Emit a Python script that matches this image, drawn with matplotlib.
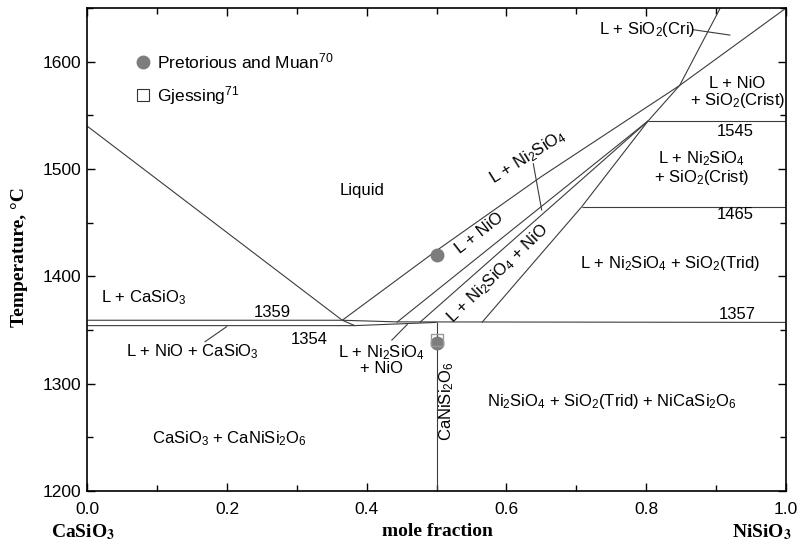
import matplotlib
matplotlib.use("Agg")
import matplotlib.pyplot as plt
from matplotlib.ticker import MultipleLocator

plt.rcParams["font.family"] = ["Liberation Sans", "DejaVu Sans"]
plt.rcParams["mathtext.fontset"] = "custom"
plt.rcParams["mathtext.rm"] = "Liberation Sans"
plt.rcParams["mathtext.it"] = "Liberation Sans:italic"
plt.rcParams["mathtext.bf"] = "Liberation Sans:bold"

# ---- phase boundaries (mole fraction NiSiO3, temperature in C) ----
casio3_liq_x = [0.0, 0.365, 0.383]
casio3_liq_T = [1540, 1359, 1354]

eutectic_x = [0.0, 0.365, 0.443, 1.0]
eutectic_T = [1359, 1359, 1357.5, 1357]

lower_x = [0.0, 0.383, 0.5]
lower_T = [1354, 1354, 1357]

nio_liq_x = [0.365, 0.5, 0.65, 0.848]
nio_liq_T = [1359, 1424, 1493, 1578]

cri_bound_x = [0.848, 1.0]
cri_bound_T = [1578, 1650]

sio2_liq_x = [0.803, 0.848, 0.906]
sio2_liq_T = [1545, 1578, 1650]

ni2sio4_upper_x = [0.443, 0.803]
ni2sio4_upper_T = [1357, 1545]

ni2sio4_lower_x = [0.476, 0.803]
ni2sio4_lower_T = [1357, 1545]

trid_bound_x = [0.565, 0.708, 0.803]
trid_bound_T = [1357, 1465, 1545]

iso_1545_x = [0.803, 1.0]
iso_1545_T = [1545, 1545]

iso_1465_x = [0.708, 1.0]
iso_1465_T = [1465, 1465]

canisi2o6_x = [0.5, 0.5]
canisi2o6_T = [1200, 1357]

# ---- experimental points ----
pm_x = [0.5, 0.5]
pm_T = [1420, 1338]
gj_x = [0.5]
gj_T = [1341]

line_color = "#3c3c3c"
marker_gray = "#7d7d7d"

fig = plt.figure(figsize=(7.98, 5.45), dpi=100)
ax = fig.add_axes([0.1094, 0.0996, 0.8753, 0.8852])

boundaries = [
    (casio3_liq_x, casio3_liq_T), (eutectic_x, eutectic_T), (lower_x, lower_T),
    (nio_liq_x, nio_liq_T), (cri_bound_x, cri_bound_T), (sio2_liq_x, sio2_liq_T),
    (ni2sio4_upper_x, ni2sio4_upper_T), (ni2sio4_lower_x, ni2sio4_lower_T),
    (trid_bound_x, trid_bound_T), (iso_1545_x, iso_1545_T),
    (iso_1465_x, iso_1465_T), (canisi2o6_x, canisi2o6_T),
]
for bx, bt in boundaries:
    ax.plot(bx, bt, color=line_color, lw=0.8, solid_capstyle="butt")

ax.plot(pm_x, pm_T, "o", ms=9, color=marker_gray, mec=marker_gray, zorder=5)
ax.plot(gj_x, gj_T, "s", ms=8, mfc="none", mec="#9a9a9a", mew=1.0, zorder=6)

# legend drawn as annotations
ax.plot([0.08], [1600], "o", ms=9, color=marker_gray, mec=marker_gray)
ax.plot([0.08], [1569], "s", ms=8, mfc="none", mec="#333333", mew=0.8)
ax.text(0.1, 1600, "Pretorious and Muan$^{70}$", fontsize=12.5, va="center")
ax.text(0.1, 1569, "Gjessing$^{71}$", fontsize=12.5, va="center")

fs = 12
ax.text(0.393, 1480, "Liquid", fontsize=fs, ha="center", va="center")
ax.text(0.02, 1380, "L + CaSiO$_3$", fontsize=fs, ha="left", va="center")
ax.text(0.265, 1366, "1359", fontsize=fs, ha="center", va="center")
ax.text(0.318, 1341, "1354", fontsize=fs, ha="center", va="center")
ax.text(0.151, 1330, "L + NiO + CaSiO$_3$", fontsize=fs, ha="center", va="center")
ax.plot([0.1685, 0.1995], [1339, 1353], color=line_color, lw=0.8)
ax.text(0.421, 1322, "L + Ni$_2$SiO$_4$\n+ NiO", fontsize=fs, ha="center",
        va="center", multialignment="center", linespacing=0.95)
ax.plot([0.436, 0.458], [1340.5, 1355], color=line_color, lw=0.8)
ax.text(0.5145, 1284, "CaNiSi$_2$O$_6$", fontsize=fs, ha="center", va="center",
        rotation=90)
ax.text(0.203, 1249, "CaSiO$_3$ + CaNiSi$_2$O$_6$", fontsize=fs, ha="center",
        va="center")
ax.text(0.751, 1283, "Ni$_2$SiO$_4$ + SiO$_2$(Trid) + NiCaSi$_2$O$_6$",
        fontsize=fs, ha="center", va="center")
ax.text(0.93, 1364, "1357", fontsize=fs, ha="center", va="center")
ax.text(0.835, 1412, "L + Ni$_2$SiO$_4$ + SiO$_2$(Trid)", fontsize=fs,
        ha="center", va="center")
ax.text(0.927, 1458, "1465", fontsize=fs, ha="center", va="center")
ax.text(0.927, 1535, "1545", fontsize=fs, ha="center", va="center")
ax.text(0.880, 1501, "L + Ni$_2$SiO$_4$\n+ SiO$_2$(Crist)", fontsize=fs,
        ha="center", va="center", multialignment="center", linespacing=0.95)
ax.text(0.931, 1571, "L + NiO\n+ SiO$_2$(Crist)", fontsize=fs, ha="center",
        va="center", multialignment="center", linespacing=0.95)
ax.text(0.801, 1630, "L + SiO$_2$(Cri)", fontsize=fs, ha="center", va="center")
ax.plot([0.8676, 0.920], [1630, 1625], color=line_color, lw=0.8)

ax.text(0.562, 1440, "L + NiO", fontsize=fs, ha="center", va="center",
        rotation=38, rotation_mode="anchor")
ax.text(0.588, 1403, "L + Ni$_2$SiO$_4$ + NiO", fontsize=fs, ha="center",
        va="center", rotation=44, rotation_mode="anchor")
ax.text(0.631, 1511, "L + Ni$_2$SiO$_4$", fontsize=fs, ha="center", va="center",
        rotation=32, rotation_mode="anchor")
ax.plot([0.6385, 0.6505], [1505, 1462], color=line_color, lw=0.8)

# axes, ticks
ax.set_xlim(0.0, 1.0)
ax.set_ylim(1200, 1650)
ax.xaxis.set_major_locator(MultipleLocator(0.2))
ax.xaxis.set_minor_locator(MultipleLocator(0.1))
ax.yaxis.set_major_locator(MultipleLocator(100))
ax.yaxis.set_minor_locator(MultipleLocator(50))
ax.xaxis.set_major_formatter(plt.FuncFormatter(lambda v, p: f"{v:.1f}"))
ax.yaxis.set_major_formatter(plt.FuncFormatter(lambda v, p: f"{v:.0f}"))
ax.tick_params(which="both", direction="in", top=True, right=True,
               labelsize=12.5, width=1.0, colors="black")
ax.tick_params(which="major", length=6)
ax.tick_params(which="minor", length=4)
ax.tick_params(axis="x", pad=8)
ax.tick_params(axis="y", pad=4)
for sp in ax.spines.values():
    sp.set_linewidth(1.2)

serif = ["Liberation Serif", "DejaVu Serif"]
fig.text(20 / 798, 1 - 257 / 545, "Temperature, \u00b0C", family=serif,
         weight="bold", fontsize=14, rotation=90, ha="center", va="center")
fig.text(437 / 798, 1 - 532 / 545, "mole fraction", family=serif,
         weight="bold", fontsize=14, ha="center", va="center")
fig.text(83 / 798, 1 - 532 / 545, r"CaSiO$_\mathbf{3}$", family=serif,
         weight="bold", fontsize=14, ha="center", va="center",
         math_fontfamily="stix")
fig.text(762 / 798, 1 - 532 / 545, r"NiSiO$_\mathbf{3}$", family=serif,
         weight="bold", fontsize=14, ha="center", va="center",
         math_fontfamily="stix")

fig.savefig("out.png", dpi=100)
